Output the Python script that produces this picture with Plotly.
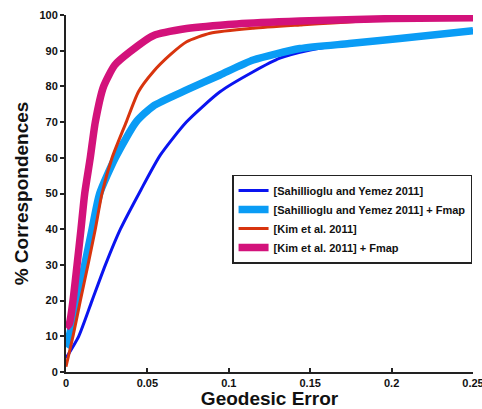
import plotly.graph_objects as go

# Cumulative correspondence accuracy vs. geodesic error
sy_x = [0, 0.0078, 0.016, 0.0242, 0.0334, 0.046, 0.058, 0.0741,
        0.0946, 0.115, 0.1314, 0.150, 0.170, 0.195, 0.220, 0.250]
sy_y = [3.9, 10, 20, 30, 40, 51, 60.8, 70.1,
        78.5, 84.1, 87.9, 90.2, 91.6, 92.6, 94.0, 95.7]

syf_x = [0, 0.0006, 0.0068, 0.0115, 0.016, 0.0207, 0.0303, 0.043, 0.0536, 0.0741,
         0.0946, 0.115, 0.1437, 0.174, 0.205, 0.250]
syf_y = [7, 7.5, 20, 30, 40, 50, 60, 70, 74.5, 79,
         83.2, 87.4, 90.6, 92, 93.4, 95.6]

kim_x = [0, 0.0043, 0.0088, 0.0135, 0.018, 0.0221, 0.0283, 0.037, 0.0445, 0.0536,
         0.0639, 0.0741, 0.0885, 0.115, 0.1437, 0.195, 0.250]
kim_y = [1.5, 10, 20, 30, 40, 50, 60, 70, 78.5, 84.1,
         88.8, 92.5, 94.9, 96.3, 97.2, 98.6, 99.1]

kimf_x = [0, 0.002, 0.0043, 0.0068, 0.0092, 0.0115, 0.0149, 0.018, 0.0231, 0.030,
          0.0393, 0.0536, 0.0741, 0.105, 0.1437, 0.200, 0.250]
kimf_y = [12.5, 13.5, 20, 30, 40, 50, 60, 70, 80, 86,
          89.7, 94.2, 96.2, 97.5, 98.3, 99.0, 99.2]

x_ticks = [0, 0.05, 0.1, 0.15, 0.2, 0.25]
x_tick_text = ["0", "0.05", "0.1", "0.15", "0.2", "0.25"]
y_ticks = [0, 10, 20, 30, 40, 50, 60, 70, 80, 90, 100]

series = [
    ("[Sahillioglu and Yemez 2011]", sy_x, sy_y, "#0A14F0", 3),
    ("[Sahillioglu and Yemez 2011] + Fmap", syf_x, syf_y, "#0A9CF5", 7.5),
    ("[Kim et al. 2011]", kim_x, kim_y, "#D8340E", 3),
    ("[Kim et al. 2011] + Fmap", kimf_x, kimf_y, "#D3127B", 7.5),
]

fig = go.Figure()
for name, xs, ys, color, width in series:
    fig.add_trace(go.Scatter(x=xs, y=ys, mode="lines", name=name,
                             line=dict(color=color, width=width,
                                       shape="spline", smoothing=0.6)))

font_family = "Liberation Sans, Arial, sans-serif"
fig.update_layout(
    width=482, height=409,
    margin=dict(l=66, r=9, t=15, b=37),
    paper_bgcolor="white", plot_bgcolor="white",
    showlegend=True,
    legend=dict(
        x=0.408, y=0.553, xanchor="left", yanchor="top",
        bgcolor="white", bordercolor="#222", borderwidth=1.5,
        font=dict(family=font_family, size=11, color="#111", weight="bold"),
        itemwidth=30, tracegroupgap=0,
    ),
    font=dict(family=font_family, color="#111"),
)
fig.update_xaxes(
    range=[0, 0.25], tickvals=x_ticks, ticktext=x_tick_text,
    ticklabeloverflow="allow", automargin=False,
    showline=True, linecolor="#222", linewidth=2, mirror=False,
    ticks="inside", ticklen=4, tickwidth=1.5, tickcolor="#222",
    showgrid=False, zeroline=False,
    tickfont=dict(family=font_family, size=11, color="#111", weight="bold"),
    title=dict(text="Geodesic Error", standoff=5,
               font=dict(family=font_family, size=19, color="#111", weight="bold")),
)
fig.update_yaxes(
    range=[0, 100], tickvals=y_ticks, automargin=False,
    showline=True, linecolor="#222", linewidth=2, mirror=False,
    ticks="outside", ticklen=4, tickwidth=1.5, tickcolor="#222",
    showgrid=False, zeroline=False,
    tickfont=dict(family=font_family, size=11, color="#111", weight="bold"),
    title=dict(text="% Correspondences", standoff=6,
               font=dict(family=font_family, size=19, color="#111", weight="bold")),
)

fig.write_html("out.html")
